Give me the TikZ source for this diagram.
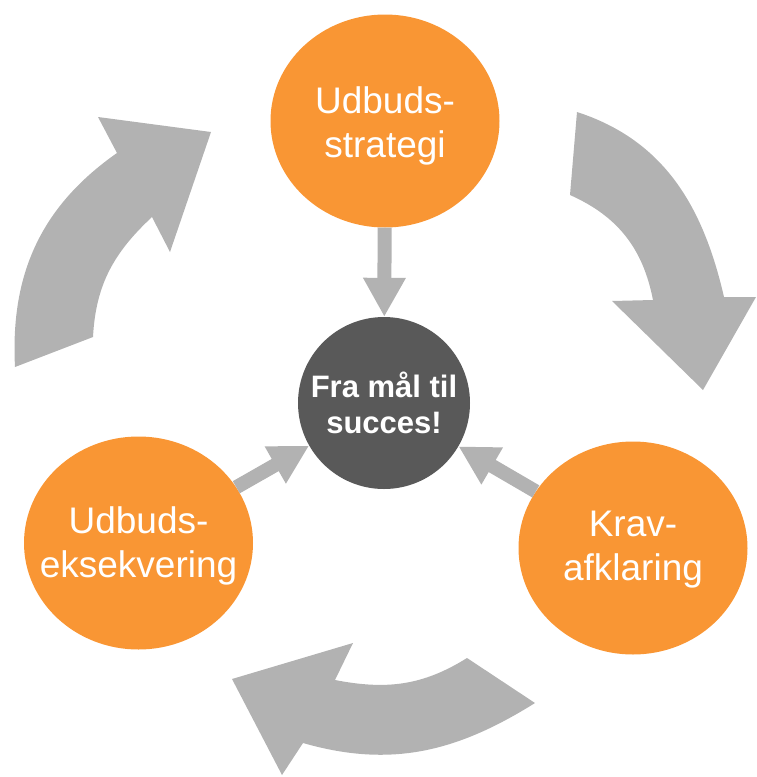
\documentclass[tikz,border=0pt]{standalone}
\usepackage{fontspec}
\setmainfont{Liberation Sans}
\usetikzlibrary{arrows.meta,shapes.geometric}
\definecolor{faseorange}{RGB}{249,150,52}
\definecolor{pilgraa}{RGB}{178,178,178}
\definecolor{midtgraa}{RGB}{89,89,89}
\begin{document}
\begin{tikzpicture}[x=1pt,y=1pt,
  fase/.style={ellipse, fill=faseorange, minimum width=229pt, minimum height=213pt, inner sep=0pt},
  fasetxt/.style={text=white, align=center, inner sep=0pt, font=\fontsize{37}{44}\selectfont},
  spoke/.style={draw=pilgraa, line width=14pt, -{Triangle[width=40pt,length=39pt]}},
  storpil/.style={fill=pilgraa}]
\useasboundingbox (0,0) rectangle (756,-777);
\fill[storpil] (577,-112) to[out=-18,in=103] (724,-297) -- (756,-297) -- (703,-390) -- (612,-301) -- (653,-300) to[out=101,in=-24] (570,-195) -- cycle;
\fill[storpil] (535,-703) -- (467,-658) to[out=-148,in=-11] (335,-680) -- (353,-643) -- (232,-679) -- (282,-775) -- (303,-743) to[out=-16,in=212] (535,-703) -- cycle;
\fill[storpil] (15,-367) to[out=93,in=-145] (117,-153) -- (98,-117) -- (211,-132) -- (170,-252) -- (152,-217) to[out=-137,in=87] (93,-337) -- cycle;
\node[circle, fill=midtgraa, minimum size=172pt, inner sep=0pt, text=white, align=center, font=\bfseries\fontsize{31}{36}\selectfont] (mid) at (384,-403){Fra mål til\\succes!};
\node[fase] (fid0) at (385,-121){};
\node[fasetxt] (lbl0) at (385,-125.5){Udbuds-\\strategi};
\node[fase] (fid1) at (633,-548){};
\node[fasetxt] (lbl1) at (633,-549.5){Krav-\\afklaring};
\node[fase] (fid2) at (138.5,-543){};
\node[fasetxt] (lbl2) at (138.5,-545.5){Udbuds-\\eksekvering};
\draw[spoke] (fid0) -- (mid);
\draw[spoke] (fid1) -- (mid);
\draw[spoke] (fid2) -- (mid);
\end{tikzpicture}
\end{document}
